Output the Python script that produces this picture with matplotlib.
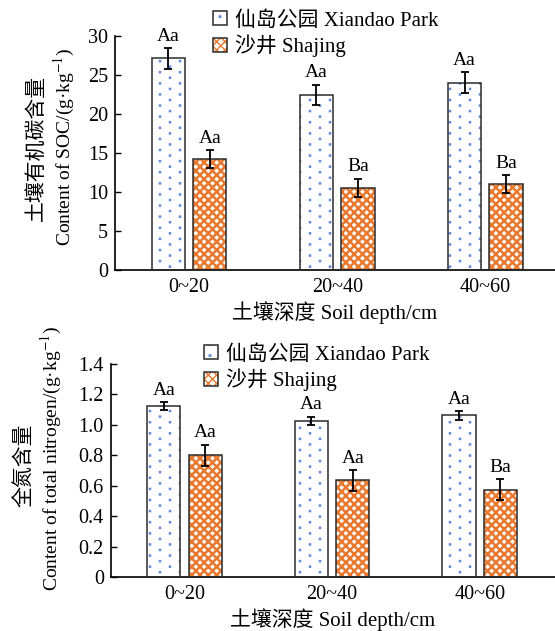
import matplotlib
matplotlib.use("Agg")
import matplotlib.pyplot as plt
import matplotlib.hatch as mhatch
from matplotlib.path import Path
import numpy as np

plt.rcParams['font.family'] = ['Liberation Serif', 'Noto Sans CJK SC']
plt.rcParams['mathtext.fontset'] = 'stix'
plt.rcParams['hatch.linewidth'] = 1.0

depths = ['0~20', '20~40', '40~60']
sites = ['仙岛公园 Xiandao Park', '沙井 Shajing']

soc_xiandao = [27.1, 22.45, 24.0]
soc_xiandao_err = [1.3, 1.3, 1.35]
soc_shajing = [14.2, 10.5, 11.0]
soc_shajing_err = [1.15, 1.2, 1.1]
soc_xiandao_lbl = ['Aa', 'Aa', 'Aa']
soc_shajing_lbl = ['Aa', 'Ba', 'Ba']

tn_xiandao = [1.125, 1.025, 1.063]
tn_xiandao_err = [0.025, 0.028, 0.028]
tn_shajing = [0.80, 0.635, 0.575]
tn_shajing_err = [0.07, 0.068, 0.066]
tn_xiandao_lbl = ['Aa', 'Aa', 'Aa']
tn_shajing_lbl = ['Aa', 'Aa', 'Ba']

BLUE = '#5F8CDA'
ORANGE = '#E9782C'
EDGE = '#2b2b2b'


# custom sparse dot lattice used for the '.' hatch (staggered columns)
class DotLattice(mhatch.HatchPatternBase):
    ncols = 10
    nrows = 9
    half = 0.007

    def __init__(self, hatch, density):
        self.on = hatch.count('.') > 0
        sq = np.array([[-1, -1], [1, -1], [1, 1], [-1, 1], [-1, -1]], float) * self.half
        self.shape_vertices = sq
        self.shape_codes = np.array([Path.MOVETO, Path.LINETO, Path.LINETO, Path.LINETO, Path.CLOSEPOLY],
                                    dtype=Path.code_type)
        n = (self.ncols + 1) * (self.nrows + 2)
        self.num_vertices = n * len(sq) if self.on else 0

    def set_vertices_and_codes(self, vertices, codes):
        vparts, cparts = [], []
        dx = 1.0 / self.ncols
        dy = 1.0 / self.nrows
        for c in range(self.ncols + 1):
            shift = 0.5 * dy if c % 2 else 0.0
            for r in range(self.nrows + 2):
                y = r * dy + shift - dy * 0.5
                vparts.append(self.shape_vertices + [c * dx, y])
                cparts.append(self.shape_codes)
        np.concatenate(vparts, out=vertices)
        np.concatenate(cparts, out=codes)


mhatch._hatch_types = [t for t in mhatch._hatch_types if t is not mhatch.SmallFilledCircles] + [DotLattice]

W, H = 555, 631
fig = plt.figure(figsize=(W/100, H/100), dpi=100)


def px(x, y):
    return x / W, 1 - y / H


width = 0.225
off = 0.14


def hatched_bar(ax, x, v, color, hatch, lw):
    with plt.rc_context({'hatch.linewidth': lw}):
        bars = ax.bar(x, v, width, color='white', edgecolor=color, hatch=hatch, linewidth=0, zorder=2)
        for p in bars:
            if hasattr(p, 'set_hatch_linewidth'):
                p.set_hatch_linewidth(lw)
    return bars


def draw(ax, xv, xe, xl, sv, se, sl, ylim, yticks, yticklabels, xlim):
    x = np.arange(len(depths))
    b1 = hatched_bar(ax, x - off, xv, BLUE, '.', 0.8)
    b2 = hatched_bar(ax, x + off, sv, ORANGE, 'xxxx', 1.8)
    o1 = ax.bar(x - off, xv, width, fill=False, edgecolor=EDGE, linewidth=1.1, zorder=3)
    o2 = ax.bar(x + off, sv, width, fill=False, edgecolor=EDGE, linewidth=1.1, zorder=3)
    ax.errorbar(x - off, xv, yerr=xe, fmt='none', ecolor='black', elinewidth=1.3, capsize=2.9, capthick=1.3, zorder=4)
    ax.errorbar(x + off, sv, yerr=se, fmt='none', ecolor='black', elinewidth=1.3, capsize=2.9, capthick=1.3, zorder=4)
    for xi, v, e, t in zip(x - off, xv, xe, xl):
        ax.annotate(t, (xi, v + e), xytext=(0, 2.5), textcoords='offset points', ha='center', va='bottom', fontsize=14)
    for xi, v, e, t in zip(x + off, sv, se, sl):
        ax.annotate(t, (xi, v + e), xytext=(0, 2.5), textcoords='offset points', ha='center', va='bottom', fontsize=14)
    ax.set_xlim(*xlim)
    ax.set_ylim(*ylim)
    ax.set_yticks(yticks)
    ax.set_yticklabels(yticklabels)
    ax.set_xticks(x)
    ax.set_xticklabels(depths)
    for s in ['top', 'right']:
        ax.spines[s].set_visible(False)
    for s in ['left', 'bottom']:
        ax.spines[s].set_linewidth(1.2)
        ax.spines[s].set_color('black')
    ax.tick_params(axis='y', direction='in', length=4.5, width=1.0, labelsize=14.5, pad=5)
    ax.tick_params(axis='x', length=0, labelsize=14.5, pad=6)
    ax.set_xlabel('土壤深度 Soil depth/cm', fontsize=15, labelpad=3)
    return (b1, o1), (b2, o2)


# top chart
l, b = px(115, 270)
_, t = px(0, 35.7)
ax1 = fig.add_axes([l, b, 1 - l, t - b])
h1 = draw(ax1, soc_xiandao, soc_xiandao_err, soc_xiandao_lbl, soc_shajing, soc_shajing_err, soc_shajing_lbl,
          (0, 30), [0, 5, 10, 15, 20, 25, 30], ['0', '5', '10', '15', '20', '25', '30'], (-0.5, 2.47))

# bottom chart
l2, b2 = px(110.7, 577)
_, t2 = px(0, 364)
ax2 = fig.add_axes([l2, b2, 1 - l2, t2 - b2])
h2 = draw(ax2, tn_xiandao, tn_xiandao_err, tn_xiandao_lbl, tn_shajing, tn_shajing_err, tn_shajing_lbl,
          (0, 1.4), [0, 0.2, 0.4, 0.6, 0.8, 1.0, 1.2, 1.4], ['0', '0.2', '0.4', '0.6', '0.8', '1.0', '1.2', '1.4'],
          (-0.5, 2.51))

leg_kw = dict(loc='upper left', frameon=False, fontsize=15, handlelength=0.65, handleheight=0.65,
              handletextpad=0.4, labelspacing=0.2, borderpad=0, borderaxespad=0)
fig.legend(list(h1), sites, bbox_to_anchor=px(213, 11), **leg_kw)
fig.legend(list(h2), sites, bbox_to_anchor=px(204, 345), **leg_kw)

# y labels
fig.text(*px(37, 148), '土壤有机碳含量', rotation=90, ha='center', va='center', fontsize=15)
fig.text(*px(64, 147), 'Content of SOC/(g·kg$^{-1}$)', rotation=90, ha='center', va='center', fontsize=14)
fig.text(*px(25, 465), '全氮含量', rotation=90, ha='center', va='center', fontsize=15)
fig.text(*px(51, 458), 'Content of total nitrogen/(g·kg$^{-1}$)', rotation=90, ha='center', va='center', fontsize=14)

fig.savefig('out.png', dpi=100)
